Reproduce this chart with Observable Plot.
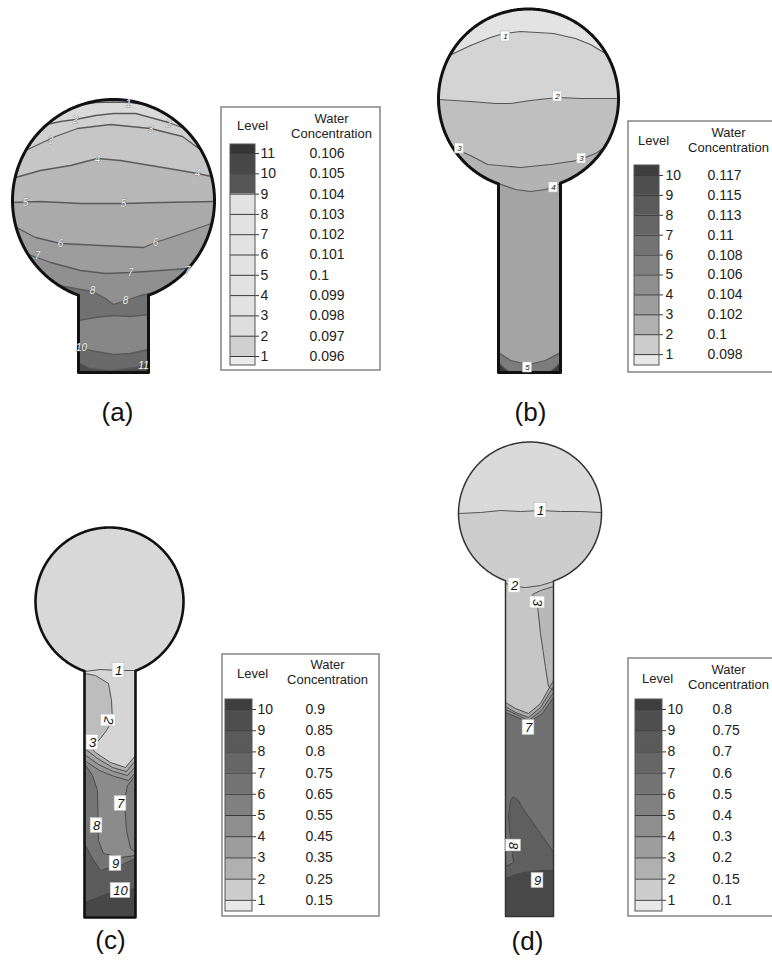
<!DOCTYPE html>
<html>
<head>
<meta charset="utf-8">
<script src="https://cdn.jsdelivr.net/npm/d3@7"></script>
<script src="https://cdn.jsdelivr.net/npm/@observablehq/plot@0.6"></script>
<style>
  html, body { margin: 0; padding: 0; background: #fff; overflow: hidden; }
  #chart { width: 772px; height: 960px; overflow: hidden; }
</style>
</head>
<body>
<div id="chart"></div>
<script>
const FONT = '"Liberation Sans", Arial, Helvetica, sans-serif';

// ---------- Domain geometry of each panel (figure units) ----------
const panelNames = ["a", "b", "c", "d"];
const circleX = [113, 528, 109, 529.5];
const circleY = [200, 98.5, 601, 513];
const circleR = [101, 90, 74, 71.5];
const stemLeft = [78, 498, 84, 505];
const stemRight = [148, 560, 135, 553];
const stemBottom = [372, 372, 917, 916];

// ---------- Contour lines ----------
const contoursA = [
  {level: 1,  pts: [[82,104],[95,102],[113,101.5],[130,102],[144,104]]},
  {level: 2,  pts: [[46,124],[60,121],[75,119],[95,115],[113,113],[135,113],[150,117],[168,122],[184,128]]},
  {level: 3,  pts: [[25,150],[40,143],[55,136],[77,128],[110,124],[150,128],[182,136],[201,150]]},
  {level: 4,  pts: [[15,177],[40,170],[70,165],[97,158],[120,160],[150,165],[180,170],[197,173],[211,176]]},
  {level: 5,  pts: [[12,202],[40,201],[80,203],[123,203],[160,202],[214,201]]},
  {level: 6,  pts: [[16,227],[35,237],[60,243],[100,245],[143,247],[155,242],[185,232],[211,223]]},
  {level: 7,  pts: [[28,254],[50,262],[80,270],[105,273],[130,272],[160,270],[188,268]]},
  {level: 8,  pts: [[58,285],[80,289],[92,291],[105,298],[113,304],[125,300],[140,295],[155,292]]},
  {level: 9,  pts: [[78,320],[95,317],[113,315],[130,316],[148,314]]},
  {level: 10, pts: [[78,345],[90,350],[113,354],[130,353],[148,349]]},
  {level: 11, pts: [[78,362],[90,368],[110,370],[135,367],[148,362]]}
];
const contoursB = [
  {level: 1, pts: [[451,54],[470,45],[490,37],[503,33],[520,31],[553,33],[575,38],[590,44],[605,53]]},
  {level: 2, pts: [[438,99],[470,101],[495,103],[510,103],[530,100],[557,97],[580,98],[618,98]]},
  {level: 3, pts: [[453,148],[470,155],[487,164],[520,167],[550,164],[577,160],[595,153],[604,147]]},
  {level: 4, pts: [[498,183],[515,189],[530,191],[545,189],[560,183]]},
  {level: 5, pts: [[498,352],[510,360],[528,364],[545,360],[560,352]]},
  {level: 6, pts: [[498,362],[504,368],[510,372]]},
  {level: 6, pts: [[548,372],[554,368],[560,362]]}
];
const contoursC = [
  {level: 1,  pts: [[84,671],[100,669],[118,670],[135,670]]},
  {level: 2,  pts: [[84,673],[95,675],[108,683],[111,700],[112,720],[106,730],[100,738],[92,746],[84,750]]},
  {level: 3,  pts: [[84,740],[95,752],[110,762],[125,767],[135,755]]},
  {level: 4,  pts: [[84,748],[97,758],[112,767],[126,771],[135,760]]},
  {level: 5,  pts: [[84,754],[98,764],[113,771],[127,775],[135,766]]},
  {level: 6,  pts: [[84,760],[99,770],[114,776],[128,780],[135,772]]},
  {level: 7,  pts: [[135,852],[130,848],[126,830],[124,800],[127,785],[135,775]]},
  {level: 8,  pts: [[84,763],[92,775],[97,790],[98,840],[103,853],[120,857],[135,855]]},
  {level: 9,  pts: [[84,843],[92,858],[100,870],[110,867],[120,865],[135,858]]},
  {level: 10, pts: [[84,902],[95,898],[107,893],[120,890],[135,888]]}
];
const contoursD = [
  {level: 1, pts: [[458,513],[480,512],[500,510],[520,511],[540,510],[560,511],[580,511],[601,512]]},
  {level: 2, pts: [[505,583],[515,586],[525,587],[540,585],[553,581]]},
  {level: 3, pts: [[553,690],[548,686],[545,667],[540,633],[537,605],[532,594],[540,590],[553,586]]},
  {level: 4, pts: [[505,702],[515,708],[528,713],[540,703],[553,680]]},
  {level: 5, pts: [[505,706],[515,712],[528,717],[540,707],[553,686]]},
  {level: 6, pts: [[505,709],[516,714],[528,720],[541,710],[553,692]]},
  {level: 7, pts: [[505,712],[517,717],[528,722],[542,713],[553,697]]},
  {level: 8, pts: [[505,866],[513,862],[510,840],[508,815],[510,800],[513,796],[518,800],[525,812],[533,823],[540,833],[547,843],[553,852]]},
  {level: 9, pts: [[505,878],[515,874],[523,872],[540,870],[553,870]]}
];

// Contour labels (text, position, rotation)
const labelsA = [
  {t:"1",x:128,y:103},{t:"2",x:75,y:119},{t:"2",x:168,y:123},{t:"3",x:50,y:140},{t:"3",x:150,y:129},
  {t:"4",x:97,y:159},{t:"4",x:197,y:173},{t:"5",x:25,y:202},{t:"5",x:123,y:203},{t:"6",x:60,y:243},
  {t:"6",x:155,y:242},{t:"7",x:37,y:255},{t:"7",x:130,y:272},{t:"7",x:187,y:270},{t:"8",x:92,y:290},
  {t:"8",x:125,y:300},{t:"10",x:81,y:347},{t:"11",x:143,y:365}
];
const labelsB = [
  {t:"1",x:505,y:36,r:0},{t:"2",x:557,y:96,r:0},{t:"3",x:459,y:148,r:0},{t:"3",x:581,y:158,r:0},
  {t:"4",x:553,y:187,r:0},{t:"5",x:527,y:367,r:0}
];
const labelsC = [
  {t:"1",x:118,y:670,r:0},{t:"2",x:108,y:720,r:100},{t:"3",x:92,y:742,r:0},{t:"7",x:120,y:803,r:0},
  {t:"8",x:96,y:825,r:0},{t:"9",x:115,y:863,r:0},{t:"10",x:120,y:890,r:0}
];
const labelsD = [
  {t:"1",x:540,y:510,r:0},{t:"2",x:514,y:585,r:0},{t:"3",x:537,y:602,r:90},{t:"7",x:528,y:727,r:0},
  {t:"8",x:513,y:845,r:90},{t:"9",x:537,y:880,r:0}
];

// ---------- Legends ----------
const legendLevelsA = [11, 10, 9, 8, 7, 6, 5, 4, 3, 2, 1];
const legendValuesA = [0.106, 0.105, 0.104, 0.103, 0.102, 0.101, 0.1, 0.099, 0.098, 0.097, 0.096];
const legendLevelsB = [10, 9, 8, 7, 6, 5, 4, 3, 2, 1];
const legendValuesB = [0.117, 0.115, 0.113, 0.11, 0.108, 0.106, 0.104, 0.102, 0.1, 0.098];
const legendLevelsC = [10, 9, 8, 7, 6, 5, 4, 3, 2, 1];
const legendValuesC = [0.9, 0.85, 0.8, 0.75, 0.65, 0.55, 0.45, 0.35, 0.25, 0.15];
const legendLevelsD = [10, 9, 8, 7, 6, 5, 4, 3, 2, 1];
const legendValuesD = [0.8, 0.75, 0.7, 0.6, 0.5, 0.4, 0.3, 0.2, 0.15, 0.1];
const captions = ["(a)", "(b)", "(c)", "(d)"];

// ---------- Styles (kept apart from the data) ----------
const shadesA = ["#e4e4e4","#dadada","#d0d0d0","#c6c6c6","#b8b8b8","#aaaaaa","#9d9d9d","#909090","#717171","#878787","#6a6a6a","#4c4c4c"];
const shadesB = ["#e3e3e3","#d4d4d4","#bfbfbf","#b3b3b3","#a4a4a4","#7c7c7c","#3a3a3a","#3a3a3a"];
const shadesC = ["#d8d8d8","#d5d5d5","#bdbdbd","#b0b0b0","#a3a3a3","#979797","#8b8b8b","#7e7e7e","#747474","#5c5c5c","#474747"];
const shadesD = ["#dadada","#cdcdcd","#c6c6c6","#b8b8b8","#a9a9a9","#9a9a9a","#8a8a8a","#707070","#5f5f5f","#484848"];
const swatchA = ["#353535","#474747","#565656","#e2e2e2","#e2e2e2","#e2e2e2","#e2e2e2","#e2e2e2","#e2e2e2","#dedede","#d0d0d0","#ebebeb"];
const swatchBCD = ["#3e3e3e","#4e4e4e","#5a5a5a","#666666","#737373","#808080","#8e8e8e","#9d9d9d","#b0b0b0","#cdcdcd","#e8e8e8"];

const panelStyle = [
  {edge: "#111", edgeW: 3,   line: "#5a5a5a", lineW: 1.3, label: "halo", fs: 10},
  {edge: "#111", edgeW: 3,   line: "#555",    lineW: 1.1, label: "box",  fs: 8},
  {edge: "#111", edgeW: 2.6, line: "#444",    lineW: 0.9, label: "box",  fs: 13},
  {edge: "#333", edgeW: 1.5, line: "#444",    lineW: 0.9, label: "box",  fs: 13}
];
const legendLayout = [
  {x0:221, x1:380, y0:107, y1:370, swX0:230, swX1:255, swY0:144, swY1:365, row0:153, step:20.3, levelX:260, valueX:309, lvX:252, lvY:125, wX:331, wY:118, cY:133},
  {x0:628, x1:792, y0:121, y1:372, swX0:634, swX1:659, swY0:165, swY1:365, row0:175, step:19.9, levelX:665, valueX:707, lvX:653, lvY:140, wX:728, wY:132, cY:147},
  {x0:222, x1:379, y0:654, y1:916, swX0:225, swX1:252, swY0:699, swY1:911, row0:709, step:21.2, levelX:257, valueX:305, lvX:252, lvY:673, wX:327, wY:664, cY:679},
  {x0:628, x1:792, y0:658, y1:916, swX0:635, swX1:662, swY0:699, swY1:911, row0:709, step:21.2, levelX:667, valueX:712, lvX:657, lvY:678, wX:728, wY:669, cY:684}
];
const captionPos = [[117, 412], [530, 412], [110, 940], [527, 941]];

// ---------- Helpers ----------
function outline(i) {
  const cx = circleX[i], cy = circleY[i], r = circleR[i], x0 = stemLeft[i], x1 = stemRight[i], yb = stemBottom[i];
  const yL = cy + Math.sqrt(r * r - (x0 - cx) ** 2);
  const yR = cy + Math.sqrt(r * r - (x1 - cx) ** 2);
  const tL = Math.atan2(yL - cy, x0 - cx);
  const tR = Math.atan2(yR - cy, x1 - cx) + 2 * Math.PI;
  const pts = [];
  const n = 480;
  for (let k = 0; k <= n; k++) {
    const t = tL + (tR - tL) * k / n;
    pts.push([cx + r * Math.cos(t), cy + r * Math.sin(t)]);
  }
  for (let y = yR + 1; y < yb; y += 1) pts.push([x1, y]);
  for (let x = x1; x > x0; x -= 1) pts.push([x, yb]);
  for (let y = yb; y > yL; y -= 1) pts.push([x0, y]);
  return pts;
}
function nearest(ol, p) {
  let bi = 0, bd = Infinity;
  ol.forEach((q, i) => { const d = (q[0] - p[0]) ** 2 + (q[1] - p[1]) ** 2; if (d < bd) { bd = d; bi = i; } });
  return bi;
}
function region(ol, pts) {
  const N = ol.length;
  const iS = nearest(ol, pts[0]), iE = nearest(ol, pts[pts.length - 1]);
  const out = pts.slice();
  let i = iE;
  while (i !== iS) { out.push(ol[i]); i = (i + 1) % N; }
  out.push(ol[iS]);
  return out;
}

const marks = [];
const XY = {x: d => d[0], y: d => d[1]};

function addPanel(i, contours, shades, labels) {
  const st = panelStyle[i];
  const ol = outline(i);
  marks.push(Plot.line(ol, {...XY, fill: shades[0], stroke: "none"}));
  contours.forEach((c, k) => marks.push(Plot.line(region(ol, c.pts), {...XY, fill: shades[k + 1], stroke: "none"})));
  contours.forEach(c => marks.push(Plot.line(c.pts, {...XY, stroke: st.line, strokeWidth: st.lineW})));
  marks.push(Plot.line([...ol, ol[0]], {...XY, stroke: st.edge, strokeWidth: st.edgeW, fill: "none"}));
  if (st.label === "box") {
    const cw = st.fs * 0.6, h = st.fs + 2;
    const wOf = d => d.t.length * cw + 4;
    const rot = d => d.r === 90 || d.r === 100;
    const bw = d => rot(d) ? h : wOf(d);
    const bh = d => rot(d) ? wOf(d) : h;
    marks.push(Plot.rect(labels, {
      x1: d => d.x - bw(d) / 2, x2: d => d.x + bw(d) / 2,
      y1: d => d.y - bh(d) / 2, y2: d => d.y + bh(d) / 2,
      fill: "white", stroke: "#bbb", strokeWidth: 0.6
    }));
    marks.push(Plot.text(labels, {
      x: "x", y: "y", text: "t", rotate: d => d.r || 0,
      fontSize: st.fs, fontStyle: "italic", fill: "#111", fontFamily: FONT
    }));
  } else {
    marks.push(Plot.text(labels, {
      x: "x", y: "y", text: "t", fontSize: st.fs, fontStyle: "italic",
      fill: "#f2f2f2", stroke: "#666", strokeWidth: 0.6, fontFamily: FONT
    }));
  }
}

function addLegend(i, levels, values, colors) {
  const L = legendLayout[i];
  const rows = levels.map((lv, k) => ({lv, val: values[k], y: L.row0 + k * L.step}));
  const edges = [L.swY0, ...rows.map(r => r.y), L.swY1];
  const bands = colors.map((c, k) => ({c, y1: edges[k], y2: edges[k + 1]}));
  marks.push(Plot.rect([L], {x1: "x0", x2: "x1", y1: "y0", y2: "y1", fill: "white", stroke: "#8c8c8c", strokeWidth: 1.6}));
  marks.push(Plot.rect(bands, {x1: () => L.swX0, x2: () => L.swX1, y1: "y1", y2: "y2", fill: "c"}));
  marks.push(Plot.ruleY(rows, {y: "y", x1: () => L.swX0, x2: () => L.swX1 + 4, stroke: "#3a3a3a", strokeWidth: 1}));
  marks.push(Plot.rect([L], {x1: "swX0", x2: "swX1", y1: "swY0", y2: "swY1", fill: "none", stroke: "#555", strokeWidth: 1}));
  marks.push(Plot.text(rows, {x: () => L.levelX, y: "y", text: d => String(d.lv), textAnchor: "start", fontSize: 14, fill: "#222", fontFamily: FONT}));
  marks.push(Plot.text(rows, {x: () => L.valueX, y: "y", text: d => String(d.val), textAnchor: "start", fontSize: 14, fill: "#222", fontFamily: FONT}));
  marks.push(Plot.text([L], {x: "lvX", y: "lvY", text: () => "Level", fontSize: 13, fill: "#222", fontFamily: FONT}));
  marks.push(Plot.text([L], {x: "wX", y: "wY", text: () => "Water", fontSize: 13, fill: "#222", fontFamily: FONT}));
  marks.push(Plot.text([L], {x: "wX", y: "cY", text: () => "Concentration", fontSize: 13, fill: "#222", fontFamily: FONT}));
}

addPanel(0, contoursA, shadesA, labelsA);
addPanel(1, contoursB, shadesB, labelsB);
addPanel(2, contoursC, shadesC, labelsC);
addPanel(3, contoursD, shadesD, labelsD);
addLegend(0, legendLevelsA, legendValuesA, swatchA);
addLegend(1, legendLevelsB, legendValuesB, swatchBCD);
addLegend(2, legendLevelsC, legendValuesC, swatchBCD);
addLegend(3, legendLevelsD, legendValuesD, swatchBCD);

marks.push(Plot.text(captions.map((c, k) => ({c, x: captionPos[k][0], y: captionPos[k][1]})), {
  x: "x", y: "y", text: "c", fontSize: 26, fill: "#111", fontFamily: FONT
}));

const chart = Plot.plot({
  width: 772,
  height: 960,
  margin: 0,
  x: {domain: [0, 772], range: [0, 772], axis: null},
  y: {domain: [0, 960], range: [0, 960], axis: null},
  color: {type: "identity"},
  style: {fontFamily: FONT, background: "white", overflow: "hidden"},
  marks
});
document.getElementById("chart").appendChild(chart);
</script>
</body>
</html>
